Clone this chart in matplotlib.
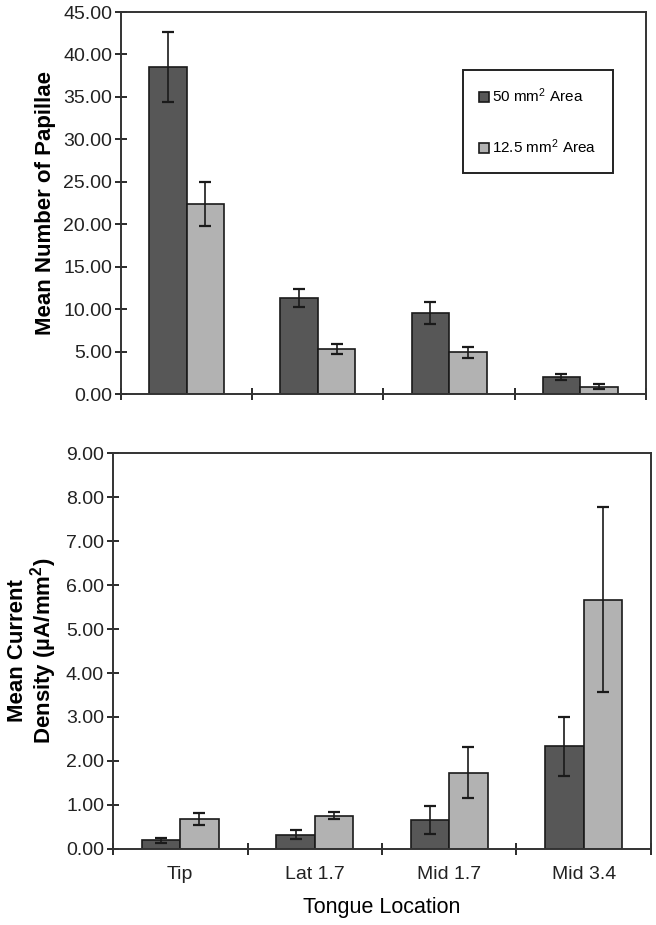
import matplotlib
matplotlib.use("Agg")
import matplotlib.pyplot as plt
import numpy as np

plt.rcParams['font.family'] = ['Liberation Sans', 'DejaVu Sans']
plt.rcParams['mathtext.default'] = 'regular'

locations = ["Tip", "Lat 1.7", "Mid 1.7", "Mid 3.4"]
series_labels = ["50 mm$^2$ Area", "12.5 mm$^2$ Area"]

# mean number of papillae
papillae_50 = [38.5, 11.3, 9.5, 2.0]
papillae_50_err = [4.1, 1.1, 1.3, 0.4]
papillae_125 = [22.4, 5.3, 4.9, 0.85]
papillae_125_err = [2.6, 0.55, 0.7, 0.3]

# mean current density
density_50 = [0.20, 0.32, 0.66, 2.33]
density_50_err = [0.06, 0.10, 0.32, 0.67]
density_125 = [0.68, 0.75, 1.73, 5.67]
density_125_err = [0.13, 0.08, 0.58, 2.10]

dark = '#575757'
light = '#b2b2b2'
edge = '#1a1a1a'
x = np.arange(len(locations))
w = 0.286

fig = plt.figure(figsize=(6.56, 9.25), dpi=100)
ax1 = fig.add_axes([0.1845, 0.574, 0.800, 0.413])
ax2 = fig.add_axes([0.1723, 0.0822, 0.820, 0.428])


def draw(ax, v1, e1, v2, e2, ymax, step):
    err_kw = dict(ecolor=edge, elinewidth=1.2, capsize=4, capthick=1.6)
    b1 = ax.bar(x - w / 2, v1, w, yerr=e1, color=dark, edgecolor=edge,
                linewidth=1.2, error_kw=err_kw, label=series_labels[0])
    b2 = ax.bar(x + w / 2, v2, w, yerr=e2, color=light, edgecolor=edge,
                linewidth=1.2, error_kw=err_kw, label=series_labels[1])
    ax.set_xlim(-0.5, len(locations) - 0.5)
    ax.set_ylim(0, ymax)
    ticks = np.arange(0, ymax + step / 2, step)
    ax.set_yticks(ticks)
    ax.set_yticklabels(['%.2f' % t for t in ticks])
    ax.set_xticks(np.arange(-0.5, len(locations), 1.0))
    ax.set_xticklabels([])
    ax.set_xticks(x, minor=True)
    ax.tick_params(axis='both', which='major', direction='inout', length=9,
                   width=1.3, color=edge, labelsize=14, labelcolor='#222222')
    ax.tick_params(axis='y', which='major', pad=2)
    ax.tick_params(axis='x', which='minor', length=0, labelsize=14,
                   labelcolor='#222222', pad=12)
    for s in ax.spines.values():
        s.set_linewidth(1.4)
        s.set_color('#333333')
    return b1, b2


draw(ax1, papillae_50, papillae_50_err, papillae_125, papillae_125_err, 45, 5)
draw(ax2, density_50, density_50_err, density_125, density_125_err, 9, 1)

ax2.set_xticklabels(locations, minor=True)
ax2.set_xlabel("Tongue Location", fontsize=15.5, labelpad=10)

ax1.set_ylabel("Mean Number of Papillae", fontsize=16, fontweight='bold',
               labelpad=5)
ax2.set_ylabel("Mean Current\nDensity (\u00b5A/mm$^2$)", fontsize=16,
               fontweight='bold', labelpad=5, linespacing=1.0)

leg = ax1.legend(loc='upper left', bbox_to_anchor=(0.651, 0.848),
                 fontsize=11, frameon=True, fancybox=False,
                 edgecolor='#222222', framealpha=1, labelspacing=2.1,
                 handlelength=0.6, handleheight=0.6, handletextpad=0.2,
                 borderpad=1.1, borderaxespad=0)
leg.get_frame().set_linewidth(1.4)

fig.savefig("out.png", dpi=100)
